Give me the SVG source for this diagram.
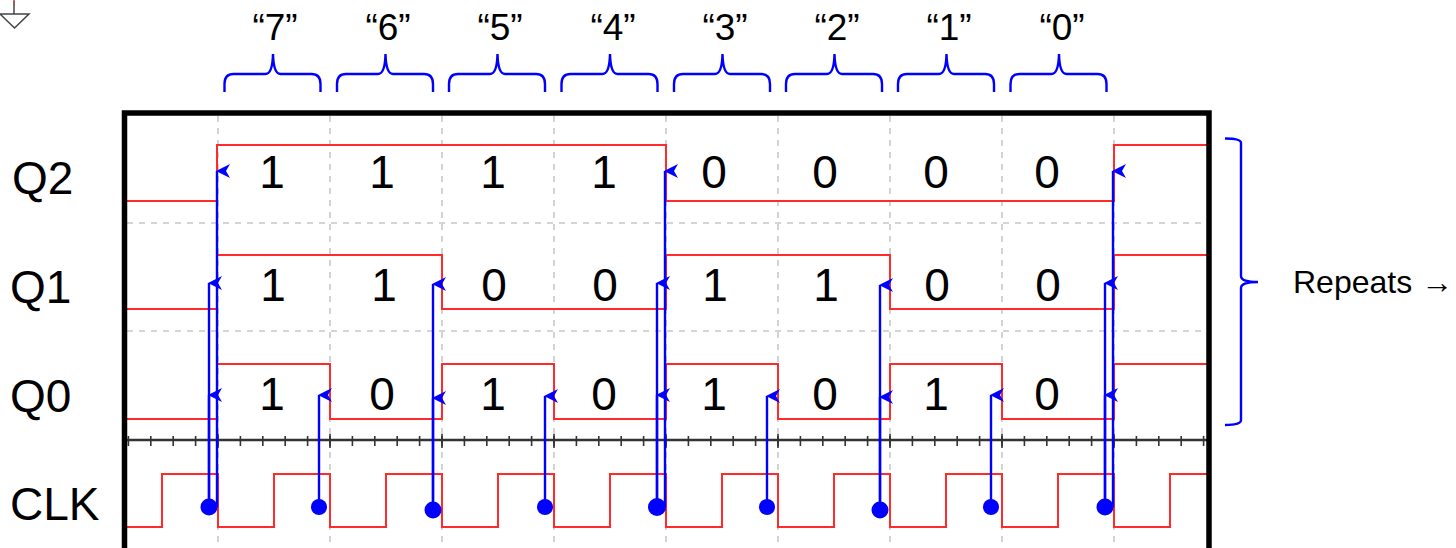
<svg xmlns="http://www.w3.org/2000/svg" xmlns:xlink="http://www.w3.org/1999/xlink" width="1456" height="548" viewBox="0 0 1456 548">
<style>
text{font-family:"Liberation Sans",Arial,sans-serif;fill:#000}
.big{font-size:46px}
.bit{font-size:46px;text-anchor:middle}
.q{font-size:37px;text-anchor:middle}
.rep{font-size:32px}
.grid{stroke:#c8c8c8;stroke-width:1.6;stroke-dasharray:6 6;fill:none}
.trace{stroke:#ff2a2a;stroke-width:2;fill:none}
.wire{stroke:#0000ff;stroke-width:2.4;fill:none;marker-end:url(#head)}
.dot{fill:#0000ff}
.brace{stroke:#0000ff;stroke-width:2.4;fill:none}
</style>
<defs>
<marker id="head" markerUnits="userSpaceOnUse" markerWidth="16" markerHeight="16" refX="1" refY="8" orient="0">
<path d="M0 8L14 1L10 8L14 15Z" fill="#0000ff"/>
</marker>
<path id="b" class="brace" d="M0 92V84Q0 74 9 74H41Q48 74 48.500 54Q49 74 56 74H87Q96 74 96 84V92"/>
</defs>
<g id="ground">
<path d="M14 1V14M0 14H29L14.500 28L0 14Z" fill="none" stroke="#444" stroke-width="1.500"/>
<path d="M14 0V1.500" stroke="#ff2a2a" stroke-width="1.500"/>
</g>
<g id="grid">
<path class="grid" d="M218 116V548M330 116V548M442 116V548M554 116V548M666 116V548M778 116V548M890 116V548M1002 116V548M1114 116V548M127 223H1207M127 331H1207"/>
</g>
<g id="axis">
<line x1="127" y1="440" x2="1207" y2="440" stroke="#333" stroke-width="2.500"/>
<line x1="127.600" y1="441" x2="1207" y2="441" stroke="#333" stroke-width="10" stroke-dasharray="1.600 20.800"/>
<line x1="217.200" y1="441" x2="1207" y2="441" stroke="#333" stroke-width="14" stroke-dasharray="1.600 110.400"/>
</g>
<g id="traces">
<path id="trace-q2" class="trace" d="M127 201H217V145H666V201H1114V145H1207"/>
<path id="trace-q1" class="trace" d="M127 309H217V255H442V309H666V255H890V309H1114V255H1207"/>
<path id="trace-q0" class="trace" d="M127 419H217V364H330V419H442V364H554V419H666V364H778V419H890V364H1002V419H1114V364H1207"/>
<path id="trace-clk" class="trace" d="M127 527H162V474H218V527H274V474H330V527H386V474H442V527H498V474H554V527H610V474H666V527H722V474H778V527H834V474H890V527H946V474H1002V527H1058V474H1114V527H1170V474H1207"/>
</g>
<rect id="frame" x="124.500" y="113" width="1084.500" height="445" fill="none" stroke="#000" stroke-width="5.500"/>
<g id="connectors">
<path class="wire" d="M217 507V171"/>
<path class="wire" d="M209 507V283"/>
<path class="wire" d="M209 507V395"/>
<path class="wire" d="M319 507V395"/>
<path class="wire" d="M433 510V284"/>
<path class="wire" d="M433 510V398"/>
<path class="wire" d="M545 507V396"/>
<path class="wire" d="M665 507V171"/>
<path class="wire" d="M657 507V283"/>
<path class="wire" d="M657 507V395"/>
<path class="wire" d="M767 507V396"/>
<path class="wire" d="M880 510V285"/>
<path class="wire" d="M880 510V397"/>
<path class="wire" d="M991 507V395"/>
<path class="wire" d="M1113 507V171"/>
<path class="wire" d="M1105 507V283"/>
<path class="wire" d="M1105 507V395"/>
<circle class="dot" cx="209" cy="507" r="8.500"/>
<circle class="dot" cx="319" cy="507" r="8"/>
<circle class="dot" cx="433" cy="510" r="8.500"/>
<circle class="dot" cx="545" cy="507" r="8"/>
<circle class="dot" cx="657" cy="507" r="9"/>
<circle class="dot" cx="767" cy="507" r="8"/>
<circle class="dot" cx="880" cy="510" r="8.500"/>
<circle class="dot" cx="991" cy="507" r="8"/>
<circle class="dot" cx="1105" cy="507" r="8.500"/>
</g>
<g id="braces">
<use xlink:href="#b" href="#b" x="224.500"/>
<use xlink:href="#b" href="#b" x="337"/>
<use xlink:href="#b" href="#b" x="449"/>
<use xlink:href="#b" href="#b" x="561.500"/>
<use xlink:href="#b" href="#b" x="674"/>
<use xlink:href="#b" href="#b" x="786"/>
<use xlink:href="#b" href="#b" x="898"/>
<use xlink:href="#b" href="#b" x="1010.500"/>
<path class="brace" d="M1225 138.500Q1241 138.500 1241 143V276Q1241 282 1258 282Q1241 282 1241 288V420Q1241 425 1225 425"/>
</g>
<g id="labels">
<text class="big" x="12" y="194">Q2</text>
<text class="big" x="10" y="303">Q1</text>
<text class="big" x="10" y="412">Q0</text>
<text class="big" x="10" y="520">CLK</text>
<text class="rep" x="1293" y="293">Repeats →</text>
</g>
<g id="byte-labels">
<text class="q" x="275" y="40">“7”</text>
<text class="q" x="388" y="40">“6”</text>
<text class="q" x="500" y="40">“5”</text>
<text class="q" x="613" y="40">“4”</text>
<text class="q" x="725" y="40">“3”</text>
<text class="q" x="837" y="40">“2”</text>
<text class="q" x="949" y="40">“1”</text>
<text class="q" x="1062" y="40">“0”</text>
</g>
<g id="bits-q2">
<text class="bit" x="272" y="188">1</text>
<text class="bit" x="382" y="188">1</text>
<text class="bit" x="493" y="188">1</text>
<text class="bit" x="604" y="188">1</text>
<text class="bit" x="714" y="188">0</text>
<text class="bit" x="825" y="188">0</text>
<text class="bit" x="936" y="188">0</text>
<text class="bit" x="1047" y="188">0</text>
</g>
<g id="bits-q1">
<text class="bit" x="273" y="301">1</text>
<text class="bit" x="384" y="301">1</text>
<text class="bit" x="494" y="301">0</text>
<text class="bit" x="605" y="301">0</text>
<text class="bit" x="715" y="301">1</text>
<text class="bit" x="826" y="301">1</text>
<text class="bit" x="937" y="301">0</text>
<text class="bit" x="1048" y="301">0</text>
</g>
<g id="bits-q0">
<text class="bit" x="272" y="410">1</text>
<text class="bit" x="382" y="410">0</text>
<text class="bit" x="493" y="410">1</text>
<text class="bit" x="604" y="410">0</text>
<text class="bit" x="714" y="410">1</text>
<text class="bit" x="825" y="410">0</text>
<text class="bit" x="936" y="410">1</text>
<text class="bit" x="1047" y="410">0</text>
</g>
</svg>
